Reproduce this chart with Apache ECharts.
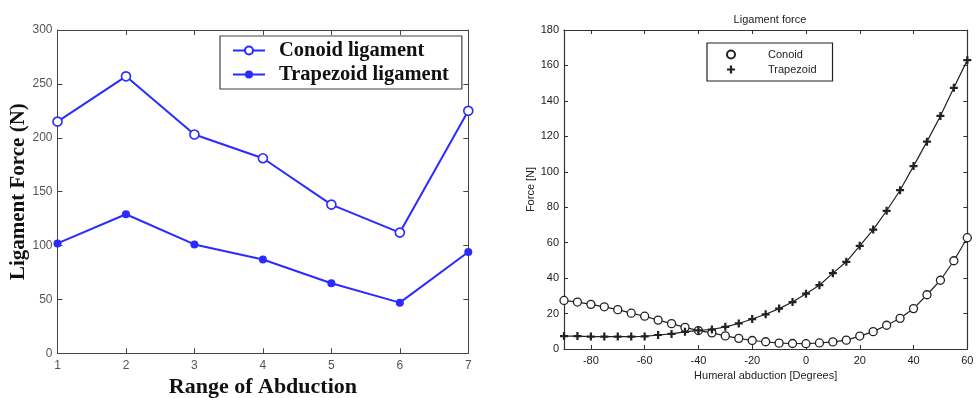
<!DOCTYPE html>
<html>
<head>
<meta charset="utf-8">
<script src="https://cdn.jsdelivr.net/npm/echarts@6/dist/echarts.min.js"></script>
<style>
  html, body { margin: 0; padding: 0; background: #fff; }
  #chart { width: 976px; height: 398px; }
</style>
</head>
<body>
<div id="chart"></div>
<script>
// Left panel: ligament force per abduction range
const stages = [1, 2, 3, 4, 5, 6, 7];
const conoidByStage = [215, 257, 203, 181, 138, 112, 225];
const trapezoidByStage = [102, 129, 101, 87, 65, 47, 94];

// Right panel: force vs humeral abduction angle (degrees)
const abduction = [-90, -85, -80, -75, -70, -65, -60, -55, -50, -45, -40, -35, -30, -25, -20, -15,
                   -10, -5, 0, 5, 10, 15, 20, 25, 30, 35, 40, 45, 50, 55, 60];
const conoidForce = [27.4, 26.5, 25.2, 23.8, 22.2, 20.2, 18.5, 16.3, 14.3, 12.2, 10.4, 9.1, 7.4, 6.0,
                     4.8, 4.1, 3.3, 3.1, 3.0, 3.4, 4.0, 5.0, 7.3, 9.8, 13.4, 17.3, 22.8, 30.6, 38.8,
                     49.8, 62.8];
const trapezoidForce = [7.3, 7.3, 7.0, 7.0, 7.0, 7.0, 7.1, 7.9, 8.5, 9.7, 10.5, 11.0, 12.5, 14.4, 16.9,
                        19.6, 22.8, 26.5, 31.2, 36.0, 42.8, 49.2, 58.2, 67.4, 78.0, 89.6, 103.2, 117.0,
                        131.5, 147.4, 163.0];

const leftYMax = 300, leftYStep = 50;
const rightYMax = 180, rightYStep = 20;
const rightXMin = -90, rightXMax = 60;
const rightXTicks = [-80, -60, -40, -20, 0, 20, 40, 60];

const blue = '#2b2bff';
const serif = 'Liberation Serif';
const sans = 'Liberation Sans';
const plusPath = 'path://M3.6,0H6.4V3.6H10V6.4H6.4V10H3.6V6.4H0V3.6H3.6Z';

const frameLine = { show: true, onZero: false, lineStyle: { color: '#444', width: 1 } };
const innerTick = { show: true, inside: true, length: 5, lineStyle: { color: '#444' } };
const darkFrame = { show: true, onZero: false, lineStyle: { color: '#333', width: 1.2 } };

const chart = echarts.init(document.getElementById('chart'), null, { renderer: 'canvas' });

chart.setOption({
  animation: false,
  backgroundColor: '#fff',
  title: {
    text: 'Ligament force',
    left: 765, top: 9, textAlign: 'center',
    textStyle: { fontFamily: sans, fontSize: 11, fontWeight: 'normal', color: '#222' }
  },
  grid: [
    { left: 57.5, right: 976 - 468.3, top: 30, bottom: 398 - 353.3, outerBoundsMode: 'none', containLabel: false },
    { left: 564, right: 976 - 967.3, top: 30, bottom: 398 - 349, outerBoundsMode: 'none', containLabel: false }
  ],
  legend: [
    {
      data: ['Conoid ligament', 'Trapezoid ligament'],
      orient: 'vertical', left: 220, top: 36,
      backgroundColor: '#fff', borderColor: '#444', borderWidth: 1.2,
      padding: [4, 13, 4, 12], itemWidth: 32, itemHeight: 10, itemGap: 3,
      textStyle: { fontFamily: serif, fontWeight: 'bold', fontSize: 20.5, color: '#111', padding: [0, 0, 0, 9] }
    },
    {
      data: [
        { name: 'Conoid', icon: 'circle' },
        { name: 'Trapezoid', icon: plusPath }
      ],
      orient: 'vertical', left: 707, top: 43,
      backgroundColor: '#fff', borderColor: '#222', borderWidth: 1.2,
      padding: [6, 16, 6, 19], itemWidth: 8, itemHeight: 8, itemGap: 4,
      textStyle: { fontFamily: sans, fontSize: 11, color: '#222', padding: [0, 0, 0, 28] }
    }
  ],
  xAxis: [
    {
      gridIndex: 0, type: 'value', min: stages[0], max: stages[stages.length - 1], interval: 1,
      name: 'Range of Abduction', nameLocation: 'middle', nameGap: 22,
      nameTextStyle: { fontFamily: serif, fontWeight: 'bold', fontSize: 22, color: '#111' },
      axisLine: frameLine, axisTick: innerTick, splitLine: { show: false },
      axisLabel: { fontFamily: sans, fontSize: 12, color: '#555', margin: 6 }
    },
    {
      gridIndex: 0, type: 'value', position: 'top', min: stages[0], max: stages[stages.length - 1], interval: 1,
      axisLine: frameLine, axisTick: innerTick, splitLine: { show: false }, axisLabel: { show: false }
    },
    {
      gridIndex: 1, type: 'value', min: rightXMin, max: rightXMax,
      name: 'Humeral abduction [Degrees]', nameLocation: 'middle', nameGap: 20,
      nameTextStyle: { fontFamily: sans, fontSize: 11, color: '#222' },
      axisLine: darkFrame,
      axisTick: { show: true, inside: true, length: 4, customValues: rightXTicks, lineStyle: { color: '#333' } },
      splitLine: { show: false },
      axisLabel: { customValues: rightXTicks, fontFamily: sans, fontSize: 11, color: '#222', margin: 6 }
    },
    {
      gridIndex: 1, type: 'value', position: 'top', min: rightXMin, max: rightXMax,
      axisLine: darkFrame,
      axisTick: { show: true, inside: true, length: 4, customValues: rightXTicks, lineStyle: { color: '#333' } },
      splitLine: { show: false }, axisLabel: { show: false }
    }
  ],
  yAxis: [
    {
      gridIndex: 0, type: 'value', min: 0, max: leftYMax, interval: leftYStep,
      name: 'Ligament Force (N)', nameLocation: 'middle', nameGap: 28,
      nameTextStyle: { fontFamily: serif, fontWeight: 'bold', fontSize: 21, color: '#111' },
      axisLine: frameLine, axisTick: innerTick, splitLine: { show: false },
      axisLabel: { fontFamily: sans, fontSize: 12, color: '#555', margin: 5 }
    },
    {
      gridIndex: 0, type: 'value', position: 'right', min: 0, max: leftYMax, interval: leftYStep,
      axisLine: frameLine, axisTick: innerTick, splitLine: { show: false }, axisLabel: { show: false }
    },
    {
      gridIndex: 1, type: 'value', min: 0, max: rightYMax, interval: rightYStep,
      name: 'Force [N]', nameLocation: 'middle', nameGap: 27,
      nameTextStyle: { fontFamily: sans, fontSize: 11, color: '#222' },
      axisLine: darkFrame,
      axisTick: { show: true, inside: true, length: 4, lineStyle: { color: '#333' } },
      splitLine: { show: false },
      axisLabel: { fontFamily: sans, fontSize: 11, color: '#222', margin: 5 }
    },
    {
      gridIndex: 1, type: 'value', position: 'right', min: 0, max: rightYMax, interval: rightYStep,
      axisLine: darkFrame,
      axisTick: { show: true, inside: true, length: 4, lineStyle: { color: '#333' } },
      splitLine: { show: false }, axisLabel: { show: false }
    }
  ],
  series: [
    {
      name: 'Conoid ligament', type: 'line', xAxisIndex: 0, yAxisIndex: 0,
      data: stages.map((s, i) => [s, conoidByStage[i]]),
      symbol: 'circle', symbolSize: 9,
      lineStyle: { color: blue, width: 2 },
      itemStyle: { color: '#fff', borderColor: blue, borderWidth: 1.6 }
    },
    {
      name: 'Trapezoid ligament', type: 'line', xAxisIndex: 0, yAxisIndex: 0,
      data: stages.map((s, i) => [s, trapezoidByStage[i]]),
      symbol: 'circle', symbolSize: 8,
      lineStyle: { color: blue, width: 2 },
      itemStyle: { color: blue, borderColor: blue, borderWidth: 0 }
    },
    {
      name: 'Conoid', type: 'line', xAxisIndex: 2, yAxisIndex: 2,
      data: abduction.map((a, i) => [a, conoidForce[i]]),
      symbol: 'circle', symbolSize: 8,
      lineStyle: { color: '#222', width: 1.2 },
      itemStyle: { color: '#fff', borderColor: '#222', borderWidth: 1.3 }
    },
    {
      name: 'Trapezoid', type: 'line', xAxisIndex: 2, yAxisIndex: 2,
      data: abduction.map((a, i) => [a, trapezoidForce[i]]),
      symbol: plusPath, symbolSize: 8,
      lineStyle: { color: '#222', width: 1.2 },
      itemStyle: { color: '#222', borderWidth: 0 }
    }
  ]
});
</script>
</body>
</html>
